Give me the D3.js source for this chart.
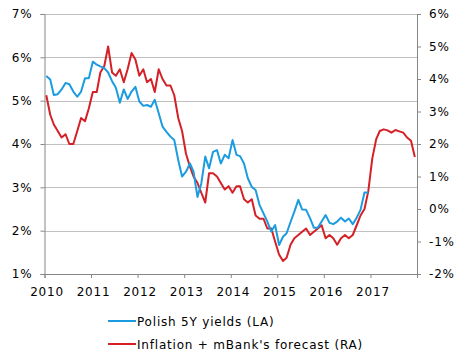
<!DOCTYPE html>
<html lang="en">
<head>
<meta charset="UTF-8">
<script src="https://cdn.jsdelivr.net/npm/d3@7"></script>
<style>
  body { margin: 0; background: #fff; }
  text { font-family: "DejaVu Sans", Verdana, sans-serif; font-size: 12px; fill: #000; letter-spacing: 0.8px; }
</style>
</head>
<body>
<div id="chart"></div>
<script>
// monthly values, Jan 2010 onwards
const yields = [
  5.57, 5.49, 5.13, 5.15, 5.26, 5.41, 5.38, 5.21, 5.09, 5.21, 5.52, 5.52,
  5.90, 5.83, 5.79, 5.75, 5.65, 5.45, 5.30, 4.95, 5.26, 5.04, 5.21, 5.32,
  4.98, 4.88, 4.90, 4.86, 5.02, 4.71, 4.40, 4.28, 4.17, 4.09, 3.63, 3.25,
  3.36, 3.55, 3.36, 2.78, 3.09, 3.71, 3.44, 3.82, 3.86, 3.55, 3.75, 3.67,
  4.09, 3.75, 3.72, 3.55, 3.21, 3.01, 2.94, 2.59, 2.40, 2.21, 1.98, 2.13,
  1.67, 1.86, 1.94, 2.20, 2.44, 2.71, 2.49, 2.48, 2.29, 2.07, 2.07, 2.21,
  2.36, 2.18, 2.15, 2.21, 2.30, 2.21, 2.28, 2.15, 2.30, 2.48, 2.88, 2.88
];
const inflation = [
  3.5, 2.9, 2.6, 2.4, 2.2, 2.3, 2.0, 2.0, 2.4, 2.8, 2.7, 3.1,
  3.6, 3.6, 4.2, 4.4, 5.0, 4.2, 4.1, 4.3, 3.9, 4.3, 4.8, 4.6,
  4.1, 4.3, 3.9, 4.0, 3.6, 4.3, 4.0, 3.8, 3.8, 3.5, 2.8, 2.4,
  1.7, 1.3, 1.0, 0.8, 0.5, 0.2, 1.1, 1.1, 1.0, 0.8, 0.6, 0.7,
  0.5, 0.7, 0.7, 0.3, 0.2, 0.3, -0.2, -0.3, -0.3, -0.6, -0.6, -1.0,
  -1.4, -1.6, -1.5, -1.1, -0.9, -0.8, -0.7, -0.6, -0.8, -0.7, -0.6, -0.5,
  -0.9, -0.8, -0.9, -1.1, -0.9, -0.8, -0.9, -0.8, -0.5, -0.2, 0.0, 0.55,
  1.55, 2.15, 2.4, 2.45, 2.42, 2.35, 2.43, 2.39, 2.35, 2.2, 2.1, 1.6
];
const years = [2010, 2011, 2012, 2013, 2014, 2015, 2016, 2017];
const leftTicks = [1, 2, 3, 4, 5, 6, 7];
const rightTicks = [-2, -1, 0, 1, 2, 3, 4, 5, 6];
const seriesNames = ["Polish 5Y yields (LA)", "Inflation + mBank's forecast (RA)"];
const colors = ["#1b9ce0", "#d42027"];

const W = 468, H = 363;
const m = {top: 14, left: 44.5, right: 51, bottom: 89};

const svg = d3.select("#chart").append("svg").attr("width", W).attr("height", H);

const x = d3.scaleTime()
  .domain([new Date(2010, 0, 1), new Date(2018, 0, 1)])
  .range([m.left, W - m.right]);
const yL = d3.scaleLinear().domain([1, 7]).range([H - m.bottom, m.top]);
const yR = d3.scaleLinear().domain([-2, 6]).range([H - m.bottom, m.top]);

const monthDate = i => new Date(2010 + Math.floor(i / 12), i % 12, 15);

// gridlines
svg.append("g").selectAll("line").data(leftTicks.slice(1)).join("line")
  .attr("x1", m.left).attr("x2", W - m.right)
  .attr("y1", d => Math.round(yL(d)) + 0.5).attr("y2", d => Math.round(yL(d)) + 0.5)
  .attr("stroke", "#c0c0c0").attr("stroke-width", 1);

// axes
const axisColor = "#868686";
const gl = svg.append("g").attr("transform", `translate(${m.left},0)`)
  .call(d3.axisLeft(yL).tickValues(leftTicks).tickFormat(d => d + "%").tickSize(4).tickPadding(8));
const gr = svg.append("g").attr("transform", `translate(${W - m.right},0)`)
  .call(d3.axisRight(yR).tickValues(rightTicks).tickFormat(d => d + "%").tickSize(4).tickPadding(8));
const gx = svg.append("g").attr("transform", `translate(0,${H - m.bottom})`)
  .call(d3.axisBottom(x).tickValues(years.map(y => new Date(y, 0, 1)).concat([new Date(2018, 0, 1)]))
    .tickFormat(d => d.getFullYear() < 2018 ? d.getFullYear() : "").tickSize(4).tickPadding(9));

[gl, gr, gx].forEach(g => {
  g.select(".domain").attr("stroke", axisColor);
  g.selectAll(".tick line").attr("stroke", axisColor);
  g.selectAll("text").style("font-family", "DejaVu Sans, Verdana, sans-serif").style("font-size", "12px").attr("fill", "#000");
});
gx.selectAll(".tick text").attr("dx", 2);

// lines
const lineL = d3.line().x((d, i) => x(monthDate(i))).y(d => yL(d));
const lineR = d3.line().x((d, i) => x(monthDate(i))).y(d => yR(d));

svg.append("path").datum(inflation)
  .attr("fill", "none").attr("stroke", colors[1]).attr("stroke-width", 2)
  .attr("stroke-linejoin", "round").attr("d", lineR);
svg.append("path").datum(yields)
  .attr("fill", "none").attr("stroke", colors[0]).attr("stroke-width", 2)
  .attr("stroke-linejoin", "round").attr("d", lineL);

// legend
const leg = svg.append("g").attr("transform", "translate(108,321)");
seriesNames.forEach((name, i) => {
  const g = leg.append("g").attr("transform", `translate(0,${i * 23})`);
  g.append("line").attr("x1", 0).attr("x2", 28).attr("y1", 0).attr("y2", 0)
    .attr("stroke", colors[i]).attr("stroke-width", 2);
  g.append("text").attr("x", 29).attr("y", 4.5).text(name);
});
</script>
</body>
</html>
